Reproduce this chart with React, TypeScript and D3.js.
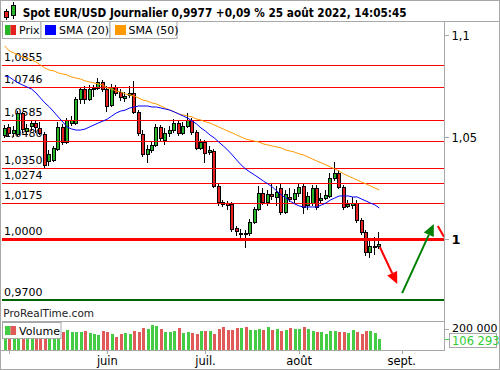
import React from 'react';
import * as d3 from 'd3';

// ---- data ----
const firstDay = '2022-04-29';
const opens = [1.0510,1.0549,1.0520,1.0515,1.0618,1.0529,1.0554,1.0569,1.0544,1.0515,
1.0382,1.0387,1.0441,1.0549,1.0475,1.0569,1.0569,1.0686,1.0735,1.0686,
1.0735,1.0740,1.0770,1.0735,1.0657,1.0745,1.0721,1.0691,1.0706,1.0716,
1.0623,1.0515,1.0417,1.0436,1.0461,1.0549,1.0485,1.0520,1.0534,1.0569,
1.0520,1.0554,1.0583,1.0525,1.0446,1.0475,1.0426,1.0431,1.0260,1.0181,
1.0176,1.0172,1.0054,1.0029,1.0029,1.0029,1.0083,1.0147,1.0225,1.0181,
1.0221,1.0206,1.0250,1.0132,1.0206,1.0196,1.0225,1.0260,1.0167,1.0176,
1.0250,1.0191,1.0201,1.0211,1.0299,1.0324,1.0255,1.0162,1.0167,1.0176,
1.0093,1.0034,0.9936,0.9966,0.9968];
const closes = [1.0544,1.0520,1.0534,1.0618,1.0539,1.0544,1.0569,1.0549,1.0520,1.0363,
1.0417,1.0446,1.0549,1.0475,1.0583,1.0583,1.0686,1.0735,1.0686,1.0735,
1.0740,1.0770,1.0735,1.0652,1.0745,1.0716,1.0696,1.0701,1.0716,1.0623,
1.0520,1.0417,1.0441,1.0461,1.0549,1.0495,1.0520,1.0534,1.0569,1.0520,
1.0554,1.0583,1.0525,1.0446,1.0475,1.0422,1.0436,1.0260,1.0181,1.0172,
1.0167,1.0049,1.0039,1.0031,1.0025,1.0083,1.0147,1.0225,1.0181,1.0221,
1.0211,1.0230,1.0132,1.0221,1.0196,1.0225,1.0255,1.0157,1.0211,1.0250,
1.0157,1.0201,1.0216,1.0299,1.0324,1.0255,1.0157,1.0172,1.0176,1.0093,
1.0034,0.9936,0.9966,0.9968,0.9977];
const highs = [1.0559,1.0564,1.0554,1.0627,1.0623,1.0564,1.0583,1.0578,1.0574,1.0525,
1.0436,1.0456,1.0574,1.0564,1.0593,1.0603,1.0696,1.0745,1.0750,1.0755,
1.0755,1.0789,1.0779,1.0750,1.0760,1.0755,1.0735,1.0721,1.0750,1.0775,
1.0632,1.0534,1.0461,1.0480,1.0564,1.0559,1.0544,1.0554,1.0588,1.0583,
1.0574,1.0618,1.0593,1.0534,1.0490,1.0485,1.0456,1.0441,1.0270,1.0191,
1.0186,1.0181,1.0064,1.0049,1.0044,1.0098,1.0157,1.0260,1.0250,1.0240,
1.0275,1.0260,1.0270,1.0240,1.0250,1.0245,1.0275,1.0270,1.0230,1.0265,
1.0265,1.0225,1.0240,1.0324,1.0377,1.0338,1.0265,1.0191,1.0206,1.0191,
1.0103,1.0044,0.9990,1.0010,1.0034];
const lows = [1.0495,1.0500,1.0500,1.0505,1.0520,1.0510,1.0529,1.0520,1.0510,1.0348,
1.0358,1.0377,1.0431,1.0461,1.0466,1.0554,1.0559,1.0662,1.0662,1.0676,
1.0696,1.0730,1.0721,1.0623,1.0647,1.0701,1.0676,1.0672,1.0691,1.0613,
1.0505,1.0402,1.0373,1.0422,1.0451,1.0480,1.0461,1.0500,1.0520,1.0505,
1.0510,1.0544,1.0510,1.0436,1.0436,1.0373,1.0412,1.0250,1.0162,1.0157,
1.0142,1.0034,1.0015,1.0005,0.9956,1.0015,1.0074,1.0137,1.0167,1.0162,
1.0191,1.0162,1.0118,1.0123,1.0181,1.0172,1.0206,1.0123,1.0142,1.0162,
1.0142,1.0176,1.0191,1.0201,1.0284,1.0245,1.0142,1.0152,1.0147,1.0078,
1.0020,0.9917,0.9907,0.9922,0.9951];
const volumes = [175000,190000,165000,210000,200000,180000,170000,175000,185000,230000,
200000,185000,195000,174000,190000,168000,168000,168000,181000,159000,
152000,143000,181000,168000,152000,127000,152000,162000,152000,181000,
174000,209000,203000,238000,228000,203000,174000,174000,184000,213000,
159000,168000,162000,156000,178000,181000,178000,156000,203000,219000,
190000,190000,206000,213000,222000,190000,190000,197000,190000,222000,
190000,200000,181000,190000,206000,197000,200000,216000,197000,181000,
171000,168000,152000,181000,181000,168000,171000,165000,190000,171000,
156000,181000,184000,159000,106293];
const sma20 = [1.0799,1.0794,1.0779,1.0765,1.0755,1.0745,1.0735,1.0716,1.0691,1.0667,
1.0647,1.0623,1.0598,1.0574,1.0549,1.0539,1.0534,1.0534,1.0539,1.0549,
1.0559,1.0569,1.0578,1.0588,1.0603,1.0618,1.0627,1.0632,1.0642,1.0647,
1.0652,1.0652,1.0652,1.0647,1.0647,1.0642,1.0637,1.0632,1.0623,1.0613,
1.0603,1.0593,1.0578,1.0564,1.0544,1.0529,1.0510,1.0495,1.0475,1.0456,
1.0436,1.0412,1.0387,1.0363,1.0343,1.0328,1.0314,1.0299,1.0284,1.0270,
1.0255,1.0235,1.0216,1.0201,1.0186,1.0172,1.0162,1.0157,1.0157,1.0157,
1.0157,1.0167,1.0176,1.0191,1.0201,1.0211,1.0211,1.0211,1.0206,1.0206,
1.0196,1.0186,1.0176,1.0167,1.0152];
const sma50 = [1.0946,1.0922,1.0912,1.0902,1.0892,1.0887,1.0877,1.0868,1.0853,1.0838,
1.0828,1.0824,1.0814,1.0809,1.0804,1.0794,1.0789,1.0784,1.0775,1.0770,
1.0765,1.0760,1.0755,1.0740,1.0735,1.0725,1.0721,1.0711,1.0706,1.0701,
1.0691,1.0681,1.0676,1.0667,1.0662,1.0652,1.0642,1.0632,1.0623,1.0613,
1.0608,1.0603,1.0598,1.0588,1.0583,1.0574,1.0569,1.0559,1.0549,1.0539,
1.0529,1.0520,1.0510,1.0500,1.0490,1.0485,1.0480,1.0475,1.0466,1.0461,
1.0456,1.0451,1.0446,1.0436,1.0431,1.0426,1.0417,1.0412,1.0402,1.0392,
1.0382,1.0373,1.0363,1.0353,1.0343,1.0333,1.0319,1.0309,1.0299,1.0289,
1.0279,1.0270,1.0260,1.0250,1.0240];
const levelValues = [1.0855, 1.0746, 1.0585, 1.0480, 1.0350, 1.0274, 1.0175, 1.0000];
const levelLabels = ['1,0855', '1,0746', '1,0585', '1,0480', '1,0350', '1,0274', '1,0175', '1,0000'];
const supportValue = 0.97;
const supportLabel = '0,9700';
const priceTicks = [1.1, 1.05, 1.0];
const priceTickLabels = ['1,1', '1,05', '1'];
const volumeTick = 200000;
const volumeTickLabel = '200 000';
const lastVolumeLabel = '106 293';
const monthLabels = ['', 'juin', 'juil.', 'août', 'sept.'];
const titleText = 'Spot EUR/USD Journalier 0,9977 +0,09 % 25 août 2022, 14:05:45';
// annotations in (bar index, price)
const redArrow = [[84.1, 0.9961], [88.0, 0.9779]];
const greenArrow = [[89.1, 0.9735], [96.2, 1.0074]];
const redStub = [[97.1, 1.0064], [98.5, 1.0010]];

// ---- calendar ----
function tradingDays(start: string, until: string) {
  const out: Date[] = [];
  const d = new Date(start + 'T12:00:00Z');
  const end = new Date(until + 'T12:00:00Z');
  while (d <= end) {
    const wd = d.getUTCDay();
    if (wd !== 0 && wd !== 6) out.push(new Date(d));
    d.setUTCDate(d.getUTCDate() + 1);
  }
  return out;
}
const days = tradingDays(firstDay, '2022-09-01');
const monthStarts: number[] = [];
days.forEach((d, i) => {
  if (i > 0 && d.getUTCMonth() !== days[i - 1].getUTCMonth()) monthStarts.push(i);
});

const FONT = 'DejaVu Sans';
const GREEN = '#26b526';
const RED = '#e52020';
const VGREEN = '#44cc44';
const VRED = '#e05a5a';
const GRID = '#a8a8a8';

export default function App() {
  const W = 500, H = 370;
  const left = 2, right = 444, top = 21, priceBottom = 321, volBottom = 350;
  const x = d3.scaleLinear().domain([0, 89]).range([4.8, 401.7]);
  const y = d3.scaleLinear().domain([1.0, 1.1]).range([239, 35]);
  const yv = d3.scaleLinear().domain([0, volumeTick]).range([volBottom, 329]);

  const lineGen = d3.line<number>().x((_, i) => x(i)).y(v => y(v));
  const arrow = (pts: number[][], color: string, head = true) => {
    const [x0, y0] = [x(pts[0][0]), y(pts[0][1])];
    const [x1, y1] = [x(pts[1][0]), y(pts[1][1])];
    const ang = Math.atan2(y1 - y0, x1 - x0);
    const L = 12, Wd = 5.5;
    const bx = x1 - L * Math.cos(ang), by = y1 - L * Math.sin(ang);
    const px = -Math.sin(ang) * Wd, py = Math.cos(ang) * Wd;
    return (
      <g>
        <line x1={x0} y1={y0} x2={head ? bx : x1} y2={head ? by : y1} stroke={color} strokeWidth={2} />
        {head && <path d={`M${x1},${y1}L${bx + px},${by + py}L${bx - px},${by - py}Z`} fill={color} />}
      </g>
    );
  };

  return (
    <svg width={W} height={H} style={{ position: 'absolute', left: 0, top: 0, display: 'block', background: '#fff' }}
      fontFamily={FONT}>
      <defs>
        <clipPath id="plot"><rect x={left} y={top} width={right - left} height={priceBottom - top} /></clipPath>
        <clipPath id="vol"><rect x={left} y={priceBottom} width={right - left} height={volBottom - priceBottom} /></clipPath>
      </defs>
      <rect x={0} y={0} width={W} height={H} fill="#fff" />

      {/* header */}
      <g>
        <line x1={6.5} x2={6.5} y1={9} y2={20} stroke="#000" />
        <rect x={4.5} y={11.5} width={4} height={6} fill={RED} stroke="#000" />
        <line x1={13.5} x2={13.5} y1={2} y2={19} stroke="#000" />
        <rect x={11.5} y={5.5} width={4} height={10} fill={GREEN} stroke="#000" />
        <text x={22.7} y={16.5} fontSize={12.5} fontWeight="bold" textLength={384} lengthAdjust="spacingAndGlyphs">{titleText}</text>
        <line x1={0} x2={W} y1={21.5} y2={21.5} stroke={GRID} />
      </g>

      {/* level labels (beneath candles) */}
      <g clipPath="url(#plot)" fontSize={11} fill="#000">
        {levelValues.map((v, i) => (
          <text key={i} x={4} y={Math.round(y(v)) - 4}>{levelLabels[i]}</text>
        ))}
        <text x={4} y={Math.round(y(supportValue)) - 4}>{supportLabel}</text>
      </g>

      {/* candles */}
      <g clipPath="url(#plot)" shapeRendering="crispEdges">
        {opens.map((o, i) => {
          const c = closes[i];
          const rc = Math.round(x(i));
          const up = c >= o;
          const t = Math.round(y(Math.max(o, c)));
          const b = Math.round(y(Math.min(o, c)));
          return (
            <g key={i}>
              <line x1={rc - 0.5} x2={rc - 0.5} y1={y(highs[i])} y2={y(lows[i])} stroke="#000" />
              <rect x={rc - 1.5} y={t + 0.5} width={3} height={Math.max(1, b - t)} fill={up ? GREEN : RED} stroke="#000" />
            </g>
          );
        })}
      </g>

      {/* horizontal levels */}
      <g clipPath="url(#plot)" shapeRendering="crispEdges">
        {levelValues.map((v, i) => (
          <line key={i} x1={left} x2={right} y1={Math.round(y(v)) + (v === 1 ? 0 : 0.5)} y2={Math.round(y(v)) + (v === 1 ? 0 : 0.5)}
            stroke="#ff0000" strokeWidth={v === 1 ? 3 : 1} />
        ))}
        <line x1={left} x2={right} y1={Math.round(y(supportValue))} y2={Math.round(y(supportValue))} stroke="#006400" strokeWidth={2} />
      </g>

      {/* SMAs */}
      <g clipPath="url(#plot)" fill="none">
        <path d={lineGen(sma50) || ''} stroke="#ff9900" strokeWidth={1} />
        <path d={lineGen(sma20) || ''} stroke="#0000ff" strokeWidth={1} />
      </g>

      {/* arrows */}
      <g clipPath="url(#plot)">
        {arrow(redArrow, '#ff0000')}
        {arrow(greenArrow, '#008000')}
        {arrow(redStub, '#ff0000', false)}
      </g>

      {/* legend */}
      <g fontSize={11}>
        <rect x={2.5} y={21.5} width={38.5} height={17} fill="#fff" stroke={GRID} />
        <rect x={5} y={25} width={5.5} height={10} fill={GREEN} />
        <rect x={10.5} y={25} width={5.5} height={10} fill={RED} />
        <text x={19} y={34}>Prix</text>
        <rect x={41} y={21.5} width={69} height={17} fill="#fff" stroke={GRID} />
        <rect x={45} y={25} width={11} height={10} fill="#0000ff" />
        <text x={59} y={34}>SMA (20)</text>
        <rect x={110} y={21.5} width={67} height={17} fill="#fff" stroke={GRID} />
        <rect x={115} y={25} width={11} height={10} fill="#ff9900" />
        <text x={128.5} y={34}>SMA (50)</text>
      </g>

      {/* right price axis */}
      <g fontSize={11.5}>
        {priceTicks.map((v, i) => (
          <g key={i}>
            <line x1={445} x2={449} y1={Math.round(y(v)) + 0.5} y2={Math.round(y(v)) + 0.5} stroke={GRID} />
            <text x={451.5} y={Math.round(y(v)) + 4.5} fontWeight={v === 1 ? 'bold' : 'normal'} fontSize={v === 1 ? 13 : 11.5}>{priceTickLabels[i]}</text>
          </g>
        ))}
      </g>

      {/* footer text */}
      <text x={3.3} y={317} fontSize={10.5} fill="#222">ProRealTime.com</text>

      {/* volume */}
      <line x1={left} x2={right} y1={priceBottom + 0.5} y2={priceBottom + 0.5} stroke={GRID} />
      <g clipPath="url(#vol)" shapeRendering="crispEdges">
        {volumes.map((v, i) => {
          const rc = Math.round(x(i));
          const up = closes[i] >= opens[i];
          return <rect key={i} x={rc - 1.5} y={yv(v)} width={3} height={volBottom - yv(v)} fill={up ? VGREEN : VRED} />;
        })}
      </g>
      <g fontSize={11}>
        <rect x={2.5} y={322.5} width={58.5} height={16} fill="#fff" stroke={GRID} />
        <rect x={5} y={326} width={5.5} height={9} fill={VGREEN} />
        <rect x={10.5} y={326} width={5.5} height={9} fill={VRED} />
        <text x={19} y={334.5}>Volume</text>
      </g>
      <line x1={445} x2={449} y1={Math.round(yv(volumeTick)) + 0.5} y2={Math.round(yv(volumeTick)) + 0.5} stroke={GRID} />
      <text x={452} y={Math.round(yv(volumeTick)) + 3} fontSize={11}>{volumeTickLabel}</text>
      <line x1={445} x2={449} y1={Math.round(yv(volumes[volumes.length - 1])) + 0.5} y2={Math.round(yv(volumes[volumes.length - 1])) + 0.5} stroke={VGREEN} />
      <rect x={449.5} y={333.5} width={47} height={14} fill="#fff" stroke={GRID} />
      <text x={452} y={344.5} fontSize={11.5} fill="#33cc33">{lastVolumeLabel}</text>

      {/* frame */}
      <line x1={right + 0.5} x2={right + 0.5} y1={top} y2={volBottom} stroke={GRID} />
      <line x1={0} x2={right + 1} y1={volBottom + 0.5} y2={volBottom + 0.5} stroke={GRID} />
      <rect x={0.5} y={0.5} width={W - 1} height={H - 1} fill="none" stroke={GRID} />

      {/* x axis */}
      <g fontSize={11.5} textAnchor="middle">
        {monthStarts.map((idx, k) => (
          <g key={k}>
            <line x1={Math.round(x(idx)) + 0.5} x2={Math.round(x(idx)) + 0.5} y1={351} y2={354} stroke={GRID} />
            {monthLabels[k] && <text x={x(idx)} y={365}>{monthLabels[k]}</text>}
          </g>
        ))}
      </g>
    </svg>
  );
}
